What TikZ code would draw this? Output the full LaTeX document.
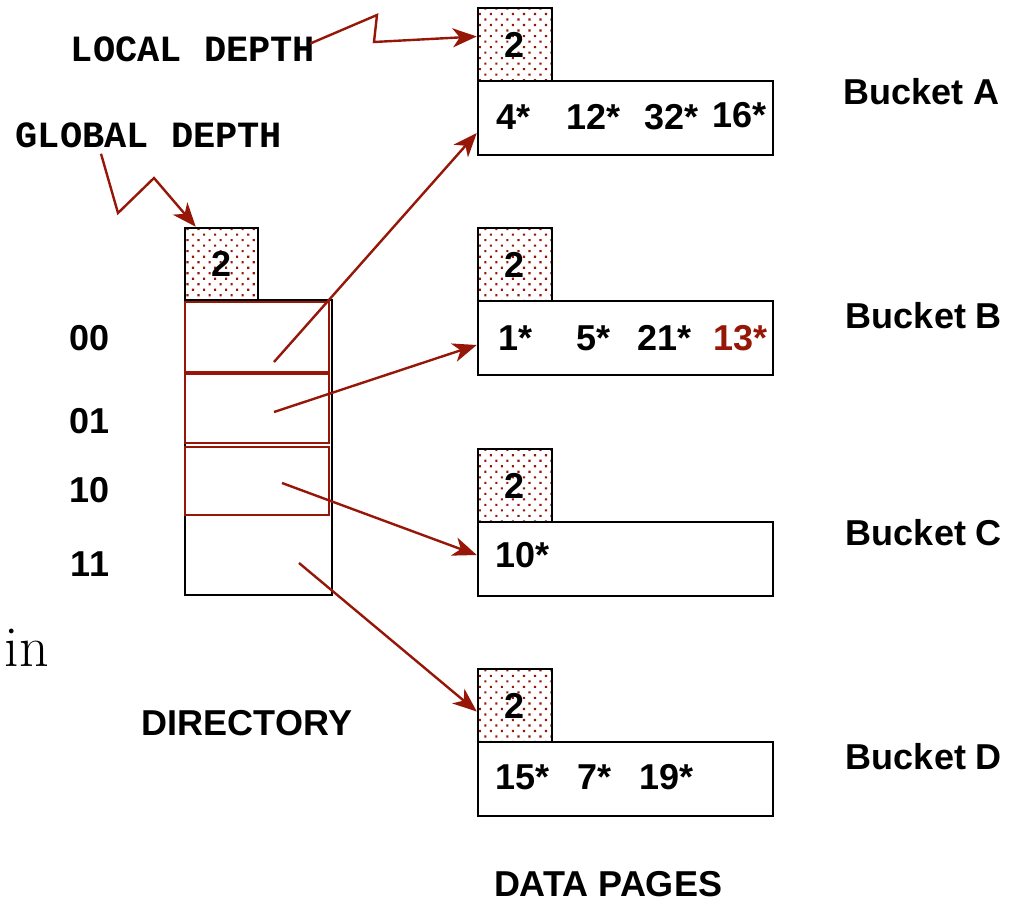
\documentclass[tikz,border=0pt]{standalone}
\usepackage{fontspec}
\newfontfamily\helv{Liberation Sans}
\newfontfamily\cour{Liberation Mono}
\usetikzlibrary{arrows.meta,patterns.meta}
\definecolor{ptrred}{RGB}{150,22,8}

\begin{document}
\begin{tikzpicture}[x=1pt,y=-1pt,
  lbl/.style={font=\fontsize{36}{40}\selectfont\helv\bfseries,inner sep=0pt},
  monolbl/.style={font=\fontsize{37}{40}\selectfont\cour\bfseries,inner sep=0pt},
  depthbox/.style={draw,line width=2.5pt,minimum width=74pt,minimum height=73pt,inner sep=0pt,
    pattern={Dots[distance=7.8pt,angle=45,radius=1.5pt]},pattern color=ptrred,lbl},
  pagebox/.style={draw,line width=2.5pt,minimum width=295pt,minimum height=74pt},
  slot/.style={draw=ptrred,line width=2.6pt,minimum width=144pt},
  ptr/.style={ptrred,line width=2.4pt,-{Stealth[length=24pt,width=19pt,inset=7pt]}}]
% Canvas
\fill[white] (0,0) rectangle (1025,902);
\useasboundingbox (0,0) rectangle (1025,902);

% Directory
\node[draw,line width=2.5pt,minimum width=147pt,minimum height=295pt] (dir) at (258.5,447.5) {};
\node[slot,minimum height=70pt] (s00) at (257,337) {};
\node[slot,minimum height=69pt] (s01) at (257,408.5) {};
\node[slot,minimum height=68pt] (s10) at (257,481) {};
\node[depthbox,minimum width=73pt,minimum height=72pt] (gd) at (221.5,264) {2};
\node[lbl] (l00) at (90,338) {00};
\node[lbl] (l01) at (90,421) {01};
\node[lbl] (l10) at (90,490) {10};
\node[lbl] (l11) at (90,564) {11};
\node[lbl] (dirlbl) at (247,723) {DIRECTORY};
\node[font=\fontsize{58}{62}\selectfont] (stray) at (27,648) {in};

% Data pages
\node[depthbox] (dA) at (515,44.5) {2};
\node[pagebox] (bA) at (625.5,118) {};
\node[depthbox] (dB) at (515,264.5) {2};
\node[pagebox] (bB) at (625.5,338) {};
\node[depthbox] (dC) at (515,485.5) {2};
\node[pagebox] (bC) at (625.5,559) {};
\node[depthbox] (dD) at (515,705.5) {2};
\node[pagebox] (bD) at (625.5,779) {};
\node[lbl] (pglbl) at (608,884) {DATA PAGES};

% Entries
\node[lbl,anchor=west] (a1) at (496,117) {4*};
\node[lbl,anchor=west] (a2) at (566,117) {12*};
\node[lbl,anchor=west] (a3) at (644,117) {32*};
\node[lbl,anchor=west] (a4) at (712,115) {16*};
\node[lbl,anchor=west] (b1) at (498,338) {1*};
\node[lbl,anchor=west] (b2) at (576,338) {5*};
\node[lbl,anchor=west] (b3) at (637,338) {21*};
\node[lbl,anchor=west,text=ptrred] (b4) at (713,338) {13*};
\node[lbl,anchor=west] (c1) at (495,555) {10*};
\node[lbl,anchor=west] (d1) at (495,777) {15*};
\node[lbl,anchor=west] (d2) at (577,777) {7*};
\node[lbl,anchor=west] (d3) at (639,777) {19*};

% Bucket names
\node[lbl] (nA) at (921.5,92) {Bucket A};
\node[lbl] (nB) at (924,316) {Bucket B};
\node[lbl] (nC) at (924,533) {Bucket C};
\node[lbl] (nD) at (924,757) {Bucket D};

% Depth labels
\node[monolbl] (ld) at (193,49.5) {LOCAL DEPTH};
\node[monolbl] (gdl) at (149,135) {GLOBAL DEPTH};
\draw[ptr] ([shift={(-5pt,6pt)}]ld.east) -- (377,15) -- (374,42) -- ([yshift=8pt]dA.west);
\draw[ptr] ([xshift=-48pt,yshift=-6pt]gdl.south) -- (118,213) -- (154,178) -- ([xshift=12pt]gd.north west);

% Pointers
\coordinate (p00) at (274,362);
\coordinate (p01) at (274,412);
\coordinate (p10) at (282,483);
\coordinate (p11) at (299,563);
\draw[ptr] (p00) -- ([yshift=-15pt]bA.west);
\draw[ptr] (p01) -- ([yshift=-7pt]bB.west);
\draw[ptr] (p10) -- ([yshift=4pt]bC.west);
\draw[ptr] (p11) -- ([yshift=-6pt]dD.west);

\end{tikzpicture}
\end{document}
